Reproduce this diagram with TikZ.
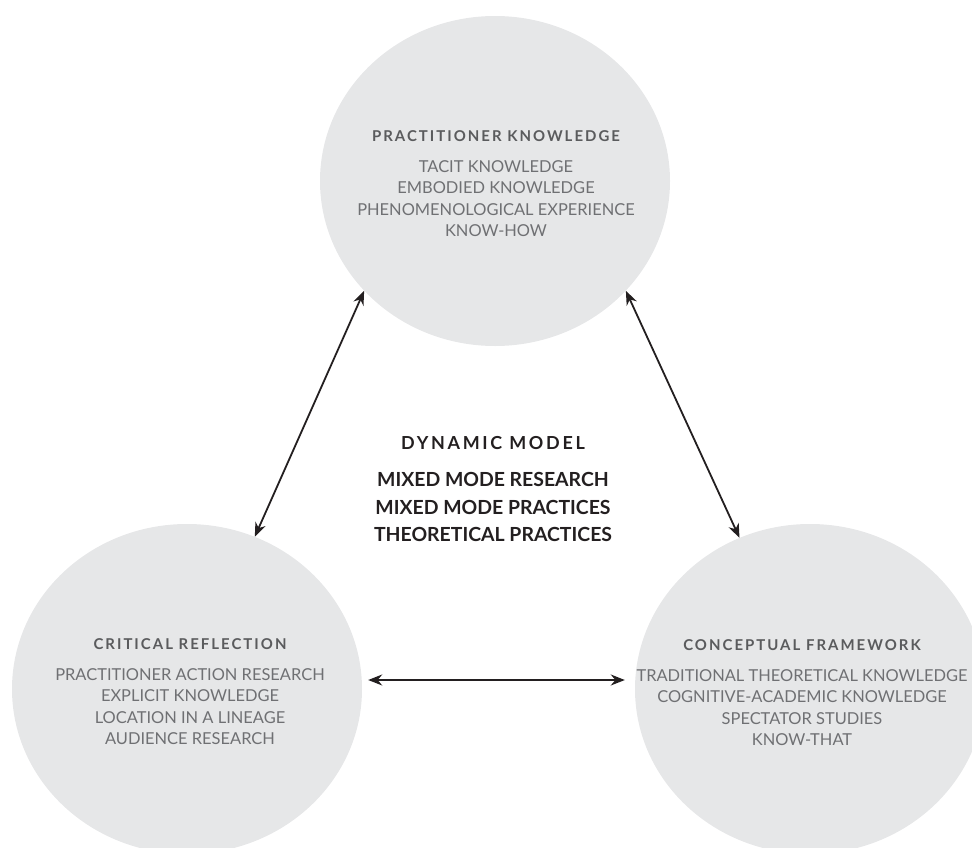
\documentclass[tikz,border=0pt]{standalone}
\usepackage{fontspec}
\setmainfont{Lato}
\newfontfamily\spacedfont{Lato}[LetterSpace=13.5]
\newfontfamily\widefont{Lato}[LetterSpace=15.0]
\usetikzlibrary{shapes.geometric,arrows.meta}
\definecolor{circ}{HTML}{E6E7E8}
\definecolor{ttl}{HTML}{5A5B5D}
\definecolor{bod}{HTML}{6F7073}
\definecolor{ink}{HTML}{231F20}
\begin{document}
\begin{tikzpicture}[x=1bp,y=-1bp,
  blob/.style={ellipse, fill=circ, minimum width=350bp, minimum height=330bp, inner sep=0pt},
  bodytext/.style={align=center, text=bod, inner sep=0pt, anchor=north,
    font=\fontsize{16.5}{21.5}\selectfont},
  centertext/.style={align=center, text=ink, inner sep=0pt, anchor=north,
    font=\bfseries\fontsize{19.5}{27.5}\selectfont},
  link/.style={{Stealth[length=14bp,width=11bp]}-{Stealth[length=14bp,width=11bp]}, line width=1.8bp, draw=ink}
]
\useasboundingbox (0,0) rectangle (972,848);
\clip (0,0) rectangle (972,848);
\newcommand{\ttlfmt}{\spacedfont\bfseries\fontsize{15}{21.5}\selectfont\color{ttl}}

\node[blob] (pk) at (495,181) {};
\node[blob] (cr) at (187,689) {};
\node[blob] (cf) at (810,689) {};

\node[bodytext] (pktext) at (496,130) {{\ttlfmt PRACTITIONER KNOWLEDGE}\\[10bp]
TACIT KNOWLEDGE\\EMBODIED KNOWLEDGE\\PHENOMENOLOGICAL EXPERIENCE\\KNOW-HOW};

\node[bodytext] (crtext) at (190,638) {{\ttlfmt CRITICAL REFLECTION}\\[10bp]
PRACTITIONER ACTION RESEARCH\\EXPLICIT KNOWLEDGE\\LOCATION IN A LINEAGE\\AUDIENCE RESEARCH};

\node[bodytext] (cftext) at (802,639) {{\ttlfmt CONCEPTUAL FRAMEWORK}\\[10bp]
TRADITIONAL THEORETICAL KNOWLEDGE\\COGNITIVE-ACADEMIC KNOWLEDGE\\SPECTATOR STUDIES\\KNOW-THAT};

\node[centertext] (dm) at (493,436) {{\widefont\bfseries\fontsize{18}{27.5}\selectfont DYNAMIC MODEL}\\[10bp]
MIXED MODE RESEARCH\\MIXED MODE PRACTICES\\THEORETICAL PRACTICES};

\draw[link] (pk.220) -- (cr.66);
\draw[link] (pk.320) -- (cf.115);
\draw[link] ([shift={(6bp,9bp)}]cr.east) -- ([shift={(-10bp,9bp)}]cf.west);
\end{tikzpicture}
\end{document}
